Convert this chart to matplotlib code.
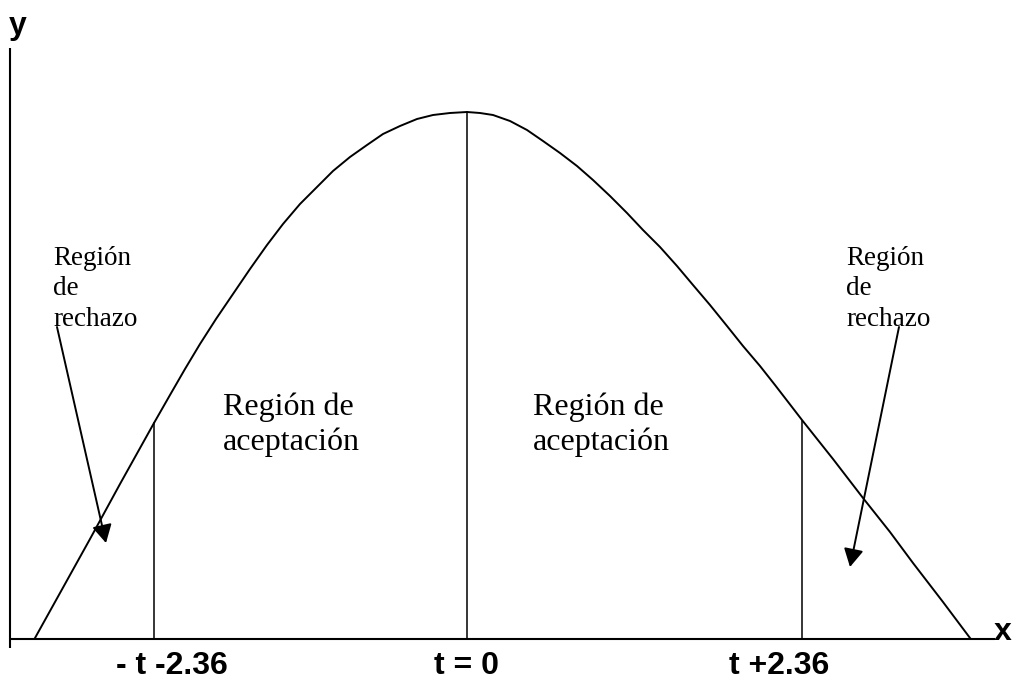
import matplotlib
matplotlib.use("Agg")
import matplotlib.pyplot as plt

# everything is laid out in pixel units of the 1013x682 picture (y grows downwards)
W, H = 1013, 682

# bell curve, points
curve_x = [35, 60, 90, 120, 154, 170, 185, 200, 216, 233, 250, 267, 283, 300, 317, 333,
           350, 367, 383, 400, 417, 433, 450, 467, 480, 493, 510, 527, 543, 560, 577,
           593, 610, 627, 643, 660, 677, 693, 710, 727, 743, 760, 775, 802, 833, 863,
           890, 913, 943, 970]
curve_y = [638, 593, 539, 484, 423, 395, 369, 344, 319, 294, 269, 245, 224, 204, 187, 171,
           157, 145, 134, 126, 119, 115, 113, 112, 113, 115, 121, 130, 141, 153, 166,
           180, 196, 213, 230, 247, 266, 285, 305, 326, 346, 366, 385, 420, 459, 498,
           532, 563, 602, 638]

# vertical markers: x, top y
vline_x = [154, 467, 802]
vline_top = [423, 112, 421]

# axes
x_axis = ([9, 995], [639, 639])
y_axis = ([9.5, 9.5], [48, 648])

# bottom labels
tick_labels = ["- t -2.36", "t = 0", "t +2.36"]
tick_x = [172, 466, 779]

# annotation arrows: (start, tip)
arrows = [((57, 327), (106, 543)), ((899, 327), (850, 567))]
reject_text = "Región\nde\nrechazo"
reject_pos = [(53, 246), (846, 246)]
accept_text = "Región de\naceptación"
accept_pos = [(223, 393), (533, 393)]

fig = plt.figure(figsize=(W / 100, H / 100), dpi=100)
ax = fig.add_axes([0, 0, 1, 1])
ax.set_xlim(0, W)
ax.set_ylim(H, 0)
ax.axis("off")

ax.plot(*x_axis, color="black", lw=1.5, solid_capstyle="butt")
ax.plot(*y_axis, color="black", lw=1.5, solid_capstyle="butt")
ax.plot(curve_x, curve_y, color="black", lw=1.4, solid_joinstyle="round")
for x, top in zip(vline_x, vline_top):
    ax.plot([x, x], [top, 639], color="black", lw=1.1)

serif = "Liberation Serif"
sans = "Liberation Sans"

for (x, y) in reject_pos:
    ax.text(x, y, reject_text, family=serif, fontsize=19.5, va="top", ha="left",
            linespacing=1.28)
for (x, y) in accept_pos:
    ax.text(x, y, accept_text, family=serif, fontsize=23, va="top", ha="left",
            linespacing=1.24)

for (start, tip) in arrows:
    ax.annotate("", xy=tip, xytext=start,
                arrowprops=dict(arrowstyle="-|>,head_length=11,head_width=6",
                                mutation_scale=1, color="black", lw=1.4,
                                shrinkA=0, shrinkB=0))

for lab, x in zip(tick_labels, tick_x):
    ax.text(x, 666, lab, family=sans, fontweight="bold", fontsize=23,
            ha="center", va="center")

ax.text(18, 26, "y", family=sans, fontweight="bold", fontsize=23, ha="center", va="center")
ax.text(1003, 632, "x", family=sans, fontweight="bold", fontsize=23, ha="center", va="center")

fig.savefig("out.png", dpi=100)
